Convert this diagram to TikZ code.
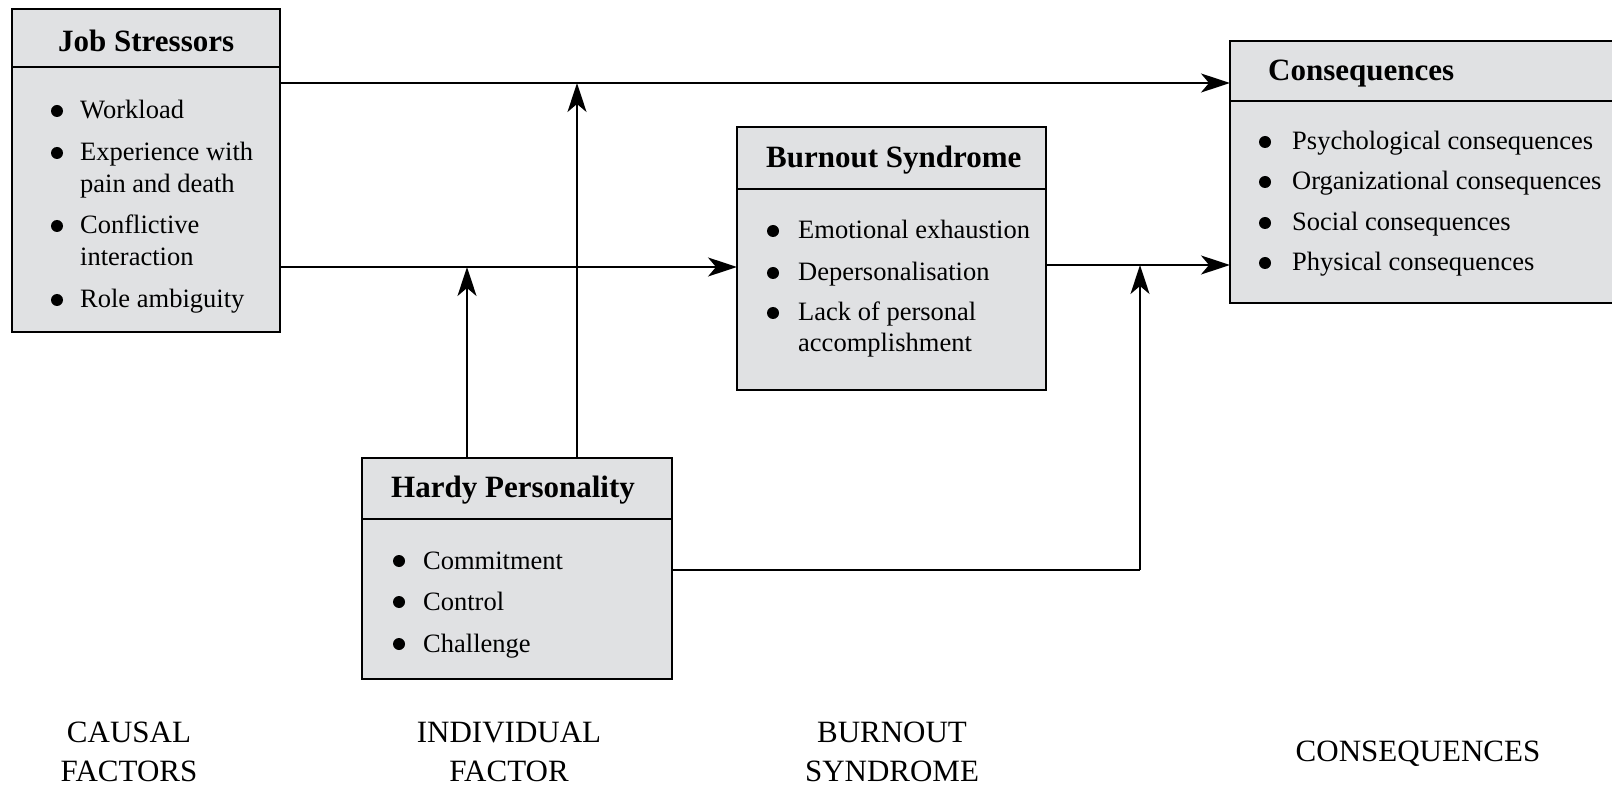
\documentclass[tikz,border=0pt]{standalone}
\usepackage{fontspec}
\setmainfont{Liberation Serif}
\usetikzlibrary{arrows.meta}
\definecolor{boxfill}{RGB}{224,225,227}
\tikzset{
  box/.style={draw=black, line width=2.4pt, fill=boxfill, rectangle, inner sep=0pt, outer sep=0pt, anchor=north west},
  divider/.style={draw=black, line width=2.2pt},
  ttl/.style={font=\fontsize{31}{37}\selectfont\bfseries, anchor=base west, inner sep=0pt},
  itm/.style={font=\fontsize{26.5}{32}\selectfont, anchor=base west, inner sep=0pt},
  bul/.style={circle, fill=black, inner sep=0pt, minimum size=12pt},
  lbl/.style={font=\fontsize{31}{39}\selectfont, align=center, inner sep=0pt},
  arr/.style={draw=black, line width=2pt, -{Stealth[length=29pt, width=19pt, inset=8pt]}},
  ln/.style={draw=black, line width=2pt},
}
\begin{document}
\begin{tikzpicture}[x=1pt, y=-1pt]
\useasboundingbox (0,0) rectangle (1612,786);

% Job Stressors
\node[box, minimum width=268pt, minimum height=323pt] (js) at (12,9) {};
\draw[divider] (12,67) -- (280,67);
\node[ttl] (jst) at (58,52) {Job Stressors};
\node[bul] (jb1) at (57,111) {}; \node[itm] (ji1) at (80,119) {Workload};
\node[bul] (jb2) at (57,153) {}; \node[itm] (ji2) at (80,161) {Experience with};
\node[itm] (ji2b) at (80,193) {pain and death};
\node[bul] (jb3) at (57,226) {}; \node[itm] (ji3) at (80,234) {Conflictive};
\node[itm] (ji3b) at (80,266) {interaction};
\node[bul] (jb4) at (57,300) {}; \node[itm] (ji4) at (80,308) {Role ambiguity};

% Burnout Syndrome
\node[box, minimum width=309pt, minimum height=263pt] (bs) at (737,127) {};
\draw[divider] (737,189) -- (1046,189);
\node[ttl] (bst) at (766,168) {Burnout Syndrome};
\node[bul] (bb1) at (773,231) {}; \node[itm] (bi1) at (798,239) {Emotional exhaustion};
\node[bul] (bb2) at (773,273) {}; \node[itm] (bi2) at (798,281) {Depersonalisation};
\node[bul] (bb3) at (773,313) {}; \node[itm] (bi3) at (798,321) {Lack of personal};
\node[itm] (bi3b) at (798,352) {accomplishment};

% Consequences
\node[box, minimum width=400pt, minimum height=262pt] (cs) at (1230,41) {};
\draw[divider] (1230,101) -- (1630,101);
\node[ttl] (cst) at (1268,81) {Consequences};
\node[bul] (cb1) at (1265,142) {}; \node[itm] (ci1) at (1292,150) {Psychological consequences};
\node[bul] (cb2) at (1265,182) {}; \node[itm] (ci2) at (1292,190) {Organizational consequences};
\node[bul] (cb3) at (1265,223) {}; \node[itm] (ci3) at (1292,231) {Social consequences};
\node[bul] (cb4) at (1265,263) {}; \node[itm] (ci4) at (1292,271) {Physical consequences};

% Hardy Personality
\node[box, minimum width=310pt, minimum height=221pt] (hp) at (362,458) {};
\draw[divider] (362,519) -- (672,519);
\node[ttl] (hpt) at (391,497) {Hardy Personality};
\node[bul] (hb1) at (399,561) {}; \node[itm] (hi1) at (423,569) {Commitment};
\node[bul] (hb2) at (399,602) {}; \node[itm] (hi2) at (423,610) {Control};
\node[bul] (hb3) at (399,644) {}; \node[itm] (hi3) at (423,652) {Challenge};

% junction points
\coordinate (m1) at (467,267);
\coordinate (m2) at (577,83);
\coordinate (m3) at (1140,265);
\coordinate (c3) at (1140,570);

% connectors
\draw[arr] (js.east |- m2) -- (cs.west |- m2);
\draw[arr] (js.east |- m1) -- (bs.west |- m1);
\draw[arr] (bs.east |- m3) -- (cs.west |- m3);
\draw[arr] (hp.north -| m1) -- (m1);
\draw[arr] (hp.north -| m2) -- (m2);
\draw[ln] (hp.east |- c3) -- (c3);
\draw[arr] (c3) -- (m3);

% bottom labels
\node[lbl] (l1) at (129,752) {CAUSAL\\FACTORS};
\node[lbl] (l2) at (509,752) {INDIVIDUAL\\FACTOR};
\node[lbl] (l3) at (892,752) {BURNOUT\\SYNDROME};
\node[lbl] (l4) at (1418,754) {CONSEQUENCES};
\end{tikzpicture}
\end{document}
